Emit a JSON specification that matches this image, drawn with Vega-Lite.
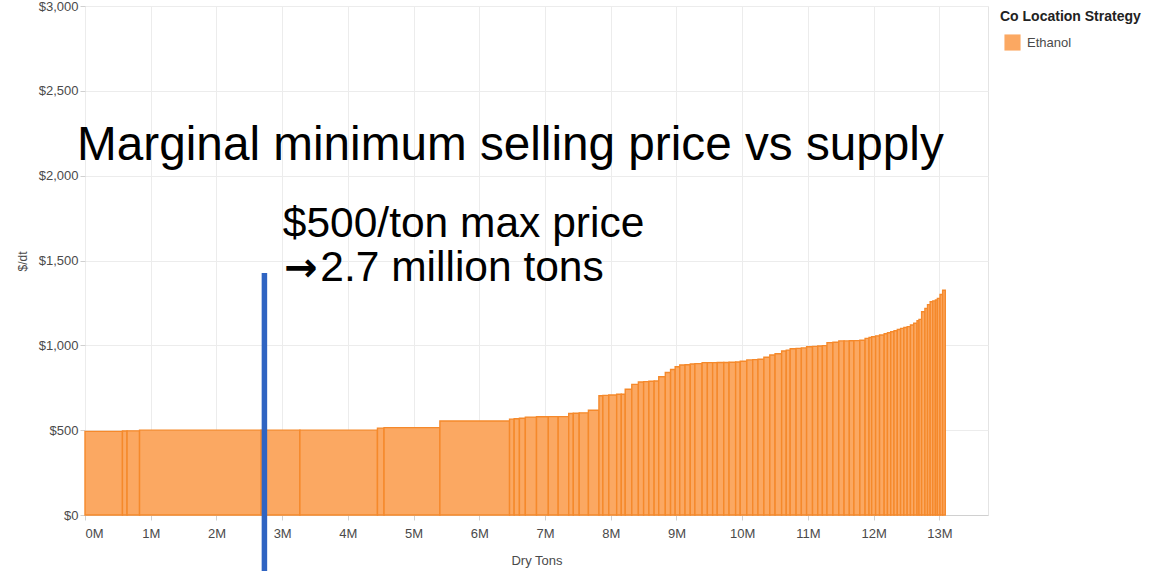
{
  "$schema": "https://vega.github.io/schema/vega-lite/v6.json",
  "autosize": {"type": "none"},
  "width": 903,
  "height": 509,
  "padding": {"left": 85, "top": 6, "right": 171, "bottom": 56},
  "background": "white",
  "config": {
    "font": "Liberation Sans",
    "view": {"stroke": "#e4e4e4"}
  },
  "layer": [
    {
      "data": {"values": [
        {"start": 0.00, "end": 0.57, "price": 493},
        {"start": 0.57, "end": 0.64, "price": 495},
        {"start": 0.64, "end": 0.83, "price": 496},
        {"start": 0.83, "end": 2.68, "price": 500},
        {"start": 2.68, "end": 3.27, "price": 500},
        {"start": 3.27, "end": 4.45, "price": 500},
        {"start": 4.45, "end": 4.55, "price": 512},
        {"start": 4.55, "end": 5.40, "price": 515},
        {"start": 5.40, "end": 6.46, "price": 554},
        {"start": 6.46, "end": 6.53, "price": 565},
        {"start": 6.53, "end": 6.61, "price": 567},
        {"start": 6.61, "end": 6.70, "price": 570},
        {"start": 6.70, "end": 6.87, "price": 577},
        {"start": 6.87, "end": 7.05, "price": 579},
        {"start": 7.05, "end": 7.20, "price": 580},
        {"start": 7.20, "end": 7.36, "price": 580},
        {"start": 7.36, "end": 7.43, "price": 598},
        {"start": 7.43, "end": 7.52, "price": 600},
        {"start": 7.52, "end": 7.66, "price": 602},
        {"start": 7.66, "end": 7.82, "price": 617},
        {"start": 7.82, "end": 7.88, "price": 703},
        {"start": 7.88, "end": 7.97, "price": 705},
        {"start": 7.97, "end": 8.09, "price": 707},
        {"start": 8.09, "end": 8.16, "price": 712},
        {"start": 8.16, "end": 8.22, "price": 712},
        {"start": 8.22, "end": 8.32, "price": 741},
        {"start": 8.32, "end": 8.42, "price": 770},
        {"start": 8.42, "end": 8.50, "price": 784},
        {"start": 8.50, "end": 8.58, "price": 786},
        {"start": 8.58, "end": 8.66, "price": 788},
        {"start": 8.66, "end": 8.73, "price": 790},
        {"start": 8.73, "end": 8.83, "price": 815},
        {"start": 8.83, "end": 8.91, "price": 840},
        {"start": 8.91, "end": 8.98, "price": 858},
        {"start": 8.98, "end": 9.05, "price": 874},
        {"start": 9.05, "end": 9.13, "price": 884},
        {"start": 9.13, "end": 9.21, "price": 886},
        {"start": 9.21, "end": 9.28, "price": 890},
        {"start": 9.28, "end": 9.39, "price": 892},
        {"start": 9.39, "end": 9.47, "price": 898},
        {"start": 9.47, "end": 9.55, "price": 898},
        {"start": 9.55, "end": 9.62, "price": 898},
        {"start": 9.62, "end": 9.72, "price": 899},
        {"start": 9.72, "end": 9.80, "price": 899},
        {"start": 9.80, "end": 9.90, "price": 900},
        {"start": 9.90, "end": 9.97, "price": 902},
        {"start": 9.97, "end": 10.07, "price": 906},
        {"start": 10.07, "end": 10.16, "price": 914},
        {"start": 10.16, "end": 10.24, "price": 916},
        {"start": 10.24, "end": 10.33, "price": 918},
        {"start": 10.33, "end": 10.42, "price": 930},
        {"start": 10.42, "end": 10.50, "price": 943},
        {"start": 10.50, "end": 10.60, "price": 950},
        {"start": 10.60, "end": 10.67, "price": 967},
        {"start": 10.67, "end": 10.73, "price": 972},
        {"start": 10.73, "end": 10.82, "price": 980},
        {"start": 10.82, "end": 10.90, "price": 982},
        {"start": 10.90, "end": 10.98, "price": 985},
        {"start": 10.98, "end": 11.07, "price": 992},
        {"start": 11.07, "end": 11.15, "price": 994},
        {"start": 11.15, "end": 11.22, "price": 996},
        {"start": 11.22, "end": 11.29, "price": 998},
        {"start": 11.29, "end": 11.38, "price": 1016},
        {"start": 11.38, "end": 11.47, "price": 1018},
        {"start": 11.47, "end": 11.55, "price": 1026},
        {"start": 11.55, "end": 11.63, "price": 1026},
        {"start": 11.63, "end": 11.70, "price": 1027},
        {"start": 11.70, "end": 11.79, "price": 1028},
        {"start": 11.79, "end": 11.87, "price": 1030},
        {"start": 11.87, "end": 11.93, "price": 1041},
        {"start": 11.93, "end": 11.97, "price": 1046},
        {"start": 11.97, "end": 12.03, "price": 1051},
        {"start": 12.03, "end": 12.09, "price": 1056},
        {"start": 12.09, "end": 12.16, "price": 1061},
        {"start": 12.16, "end": 12.21, "price": 1068},
        {"start": 12.21, "end": 12.26, "price": 1074},
        {"start": 12.26, "end": 12.31, "price": 1080},
        {"start": 12.31, "end": 12.36, "price": 1086},
        {"start": 12.36, "end": 12.41, "price": 1093},
        {"start": 12.41, "end": 12.46, "price": 1100},
        {"start": 12.46, "end": 12.51, "price": 1105},
        {"start": 12.51, "end": 12.56, "price": 1110},
        {"start": 12.56, "end": 12.61, "price": 1120},
        {"start": 12.61, "end": 12.66, "price": 1130},
        {"start": 12.66, "end": 12.69, "price": 1145},
        {"start": 12.69, "end": 12.73, "price": 1153},
        {"start": 12.73, "end": 12.78, "price": 1198},
        {"start": 12.78, "end": 12.82, "price": 1218},
        {"start": 12.82, "end": 12.86, "price": 1240},
        {"start": 12.86, "end": 12.90, "price": 1257},
        {"start": 12.90, "end": 12.94, "price": 1262},
        {"start": 12.94, "end": 12.97, "price": 1267},
        {"start": 12.97, "end": 13.01, "price": 1277},
        {"start": 13.01, "end": 13.05, "price": 1300},
        {"start": 13.05, "end": 13.09, "price": 1325}
      ]},
      "mark": {"type": "rect", "stroke": "#f5892b", "strokeWidth": 1.4},
      "encoding": {
        "x": {
          "field": "start", "type": "quantitative",
          "scale": {"domain": [0, 13.74], "nice": false, "zero": false},
          "axis": {
            "values": [0,1,2,3,4,5,6,7,8,9,10,11,12,13],
            "labelExpr": "datum.value + 'M'",
            "labelFont": "Liberation Sans", "labelFontSize": 13, "labelColor": "#4a4a4a",
            "tickColor": "#d0d0d0", "tickSize": 5, "labelPadding": 7,
            "domainColor": "#d0d0d0", "gridColor": "#ececec",
            "title": "Dry Tons", "titleFont": "Liberation Sans", "titleFontSize": 13, "titleFontWeight": "normal",
            "titleColor": "#4a4a4a", "titlePadding": 14
          }
        },
        "x2": {"field": "end"},
        "y": {
          "field": "price", "type": "quantitative",
          "scale": {"domain": [0, 3000], "nice": false},
          "axis": {
            "values": [0, 500, 1000, 1500, 2000, 2500, 3000],
            "format": "$,.0f",
            "labelFont": "Liberation Sans", "labelFontSize": 13, "labelColor": "#4a4a4a",
            "tickColor": "#d0d0d0", "tickSize": 5, "labelPadding": 2,
            "domain": false, "gridColor": "#ececec",
            "title": "$/dt", "titleFont": "Liberation Sans", "titleFontSize": 12, "titleFontWeight": "normal",
            "titleColor": "#4a4a4a",
            "titleX": -63, "titleY": 255, "titleAngle": -90, "titleAlign": "center", "titleBaseline": "middle"
          }
        },
        "y2": {"datum": 0},
        "color": {
          "datum": "Ethanol", "type": "nominal",
          "scale": {"domain": ["Ethanol"], "range": ["#fba862"]},
          "legend": {
            "title": "Co Location Strategy", "orient": "none", "legendX": 915, "legendY": 4,
            "padding": 0, "titleFont": "Liberation Sans", "titleFontSize": 14, "titleFontWeight": "bold", "titleColor": "#222222",
            "titlePadding": 10,
            "labelFont": "Liberation Sans", "labelFontSize": 13, "labelColor": "#4a4a4a", "labelOffset": 6,
            "symbolType": "square", "symbolSize": 260, "symbolOffset": 4, "symbolStrokeWidth": 0, "symbolFillColor": "#fba862"
          }
        }
      }
    },
    {
      "data": {"values": [{"tons": 2.73, "top": 1426, "bottom": -340}]},
      "mark": {"type": "rule", "color": "#2f64c2", "strokeWidth": 5.5},
      "encoding": {
        "x": {"field": "tons", "type": "quantitative"},
        "y": {"field": "top", "type": "quantitative"},
        "y2": {"field": "bottom"}
      }
    },
    {
      "data": {"values": [{"label": "Marginal minimum selling price vs supply", "tons": -0.12, "price": 2092}]},
      "mark": {"type": "text", "align": "left", "baseline": "alphabetic", "fontSize": 47.7, "font": "Liberation Sans", "color": "#000000"},
      "encoding": {
        "x": {"field": "tons", "type": "quantitative"},
        "y": {"field": "price", "type": "quantitative"},
        "text": {"field": "label"}
      }
    },
    {
      "data": {"values": [
        {"label": "$500/ton max price", "tons": 3.01, "price": 1638},
        {"label": "2.7 million tons", "tons": 3.58, "price": 1379}
      ]},
      "mark": {"type": "text", "align": "left", "baseline": "alphabetic", "fontSize": 42.5, "font": "Liberation Sans", "color": "#000000"},
      "encoding": {
        "x": {"field": "tons", "type": "quantitative"},
        "y": {"field": "price", "type": "quantitative"},
        "text": {"field": "label"}
      }
    },
    {
      "data": {"values": [{"label": "→", "tons": 3.03, "price": 1379}]},
      "mark": {"type": "text", "align": "left", "baseline": "alphabetic", "fontSize": 40, "font": "DejaVu Sans", "fontWeight": "bold", "color": "#000000"},
      "encoding": {
        "x": {"field": "tons", "type": "quantitative"},
        "y": {"field": "price", "type": "quantitative"},
        "text": {"field": "label"}
      }
    }
  ]
}
